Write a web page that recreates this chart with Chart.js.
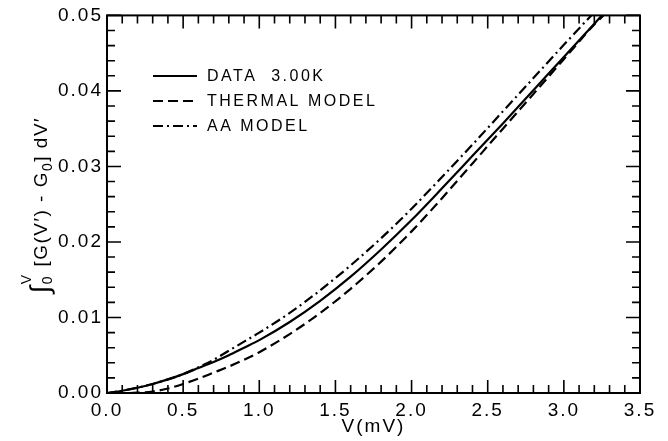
<!DOCTYPE html>
<html>
<head>
<meta charset="utf-8">
<script src="https://cdn.jsdelivr.net/npm/chart.js@4.4.1/dist/chart.umd.min.js"></script>
<style>
  html, body { margin: 0; padding: 0; background: #fff; }
  #wrap { width: 668px; height: 441px; }
</style>
</head>
<body>
<div id="wrap"><canvas id="myChart" width="668" height="441"></canvas></div>
<script>
// V (mV) and integral values
const dataVoltage = [0, 0.1, 0.2, 0.3, 0.4, 0.5, 0.6, 0.7, 0.8, 0.9, 1.0, 1.2, 1.4, 1.6, 1.8, 2.0, 2.2, 2.4, 2.6, 2.8, 3.0, 3.2, 3.25];
const dataIntegral = [0, 0.0003, 0.0007, 0.0012, 0.0018, 0.0025, 0.0033, 0.0041, 0.0050, 0.0060, 0.0070, 0.0094, 0.0122, 0.0154, 0.0190, 0.0229, 0.0271, 0.0314, 0.0357, 0.0401, 0.0445, 0.0489, 0.0500];

const thermalVoltage = [0.15, 0.3, 0.4, 0.5, 0.6, 0.7, 0.8, 0.9, 1.0, 1.2, 1.4, 1.6, 1.8, 2.0, 2.2, 2.4, 2.6, 2.8, 3.0, 3.2, 3.26];
const thermalIntegral = [0, 0.0002, 0.0006, 0.0012, 0.0019, 0.0027, 0.0035, 0.0044, 0.0054, 0.0078, 0.0106, 0.0138, 0.0174, 0.0214, 0.0258, 0.0304, 0.0350, 0.0396, 0.0442, 0.0488, 0.0500];

const aaVoltage = [0, 0.1, 0.2, 0.3, 0.4, 0.5, 0.6, 0.7, 0.8, 0.9, 1.0, 1.2, 1.4, 1.6, 1.8, 2.0, 2.2, 2.4, 2.6, 2.8, 3.0, 3.18];
const aaIntegral = [0, 0.0003, 0.0007, 0.0012, 0.0018, 0.0025, 0.0034, 0.0044, 0.0056, 0.0068, 0.0080, 0.0106, 0.0136, 0.0169, 0.0205, 0.0244, 0.0286, 0.0329, 0.0373, 0.0417, 0.0461, 0.0500];

const seriesLabels = ['DATA  3.00K', 'THERMAL MODEL', 'AA MODEL'];
const xTickLabels = ['0.0', '0.5', '1.0', '1.5', '2.0', '2.5', '3.0', '3.5'];
const yTickLabels = ['0.00', '0.01', '0.02', '0.03', '0.04', '0.05'];

const FONT = '"Liberation Sans", Arial, sans-serif';

const toPoints = (xs, ys) => xs.map((x, i) => ({ x, y: ys[i] }));

// inner ticks on all four sides + frame
const framePlugin = {
  id: 'frame',
  beforeDraw(chart) {
    chart.ctx.letterSpacing = '2px';
  },
  afterDraw(chart) {
    const { ctx, chartArea: a, scales } = chart;
    ctx.save();
    ctx.strokeStyle = '#000';
    ctx.lineWidth = 1.6;
    scales.x.ticks.forEach(t => {
      const px = scales.x.getPixelForValue(t.value);
      const major = Math.round(t.value * 10) % 5 === 0;
      const len = major ? 13 : 8;
      ctx.beginPath();
      ctx.moveTo(px, a.bottom); ctx.lineTo(px, a.bottom - len);
      ctx.moveTo(px, a.top); ctx.lineTo(px, a.top + len);
      ctx.stroke();
    });
    scales.y.ticks.forEach(t => {
      const py = scales.y.getPixelForValue(t.value);
      const major = Math.round(t.value * 1000) % 10 === 0;
      const len = major ? 14 : 8;
      ctx.beginPath();
      ctx.moveTo(a.left, py); ctx.lineTo(a.left + len, py);
      ctx.moveTo(a.right, py); ctx.lineTo(a.right - len, py);
      ctx.stroke();
    });
    ctx.lineWidth = 2;
    ctx.strokeRect(a.left, a.top, a.right - a.left, a.bottom - a.top);
    ctx.restore();
  }
};

// legend box in the upper left of the plot
const legendPlugin = {
  id: 'innerLegend',
  afterDraw(chart) {
    const ctx = chart.ctx;
    ctx.save();
    ctx.letterSpacing = '2.5px';
    ctx.font = '16px ' + FONT;
    ctx.fillStyle = '#000';
    ctx.textBaseline = 'middle';
    chart.data.datasets.forEach((ds, i) => {
      const y = 76 + i * 25;
      ctx.strokeStyle = '#000';
      ctx.lineWidth = 2;
      ctx.setLineDash(ds.borderDash || []);
      ctx.beginPath();
      ctx.moveTo(153, y); ctx.lineTo(197, y);
      ctx.stroke();
      ctx.setLineDash([]);
      ctx.fillText(ds.label, 207, y + 1);
    });
    ctx.restore();
  }
};

// rotated y axis title with sub/superscripts
const yTitlePlugin = {
  id: 'yTitle',
  afterDraw(chart) {
    const ctx = chart.ctx;
    const parts = [
      { t: '\u222B', f: 27, dy: 2 },
      { t: '0', f: 14, dy: 5, w: 0 },
      { t: 'V', f: 14, dy: -16 },
      { t: ' [G(V\u2032) - G', f: 19, dy: 0 },
      { t: '0', f: 14, dy: 5 },
      { t: '] dV\u2032', f: 19, dy: 0 }
    ];
    ctx.save();
    ctx.letterSpacing = '1.5px';
    ctx.fillStyle = '#000';
    ctx.textBaseline = 'alphabetic';
    let total = 0;
    parts.forEach(p => {
      ctx.font = p.f + 'px ' + FONT;
      p.width = ctx.measureText(p.t).width;
      if (p.w !== 0) total += p.width;
    });
    ctx.translate(47, 205);
    ctx.rotate(-Math.PI / 2);
    let u = -total / 2;
    parts.forEach(p => {
      ctx.font = p.f + 'px ' + FONT;
      ctx.fillText(p.t, u, p.dy);
      if (p.w !== 0) u += p.width;
    });
    ctx.restore();
  }
};

const ctx = document.getElementById('myChart').getContext('2d');
new Chart(ctx, {
  type: 'line',
  data: {
    datasets: [
      {
        label: seriesLabels[0],
        data: toPoints(dataVoltage, dataIntegral),
        borderColor: '#000',
        borderWidth: 2.2,
        borderDash: [],
        pointRadius: 0,
        cubicInterpolationMode: 'monotone',
        fill: false,
      },
      {
        label: seriesLabels[1],
        data: toPoints(thermalVoltage, thermalIntegral),
        borderColor: '#000',
        borderWidth: 2.2,
        borderDash: [10, 5],
        pointRadius: 0,
        cubicInterpolationMode: 'monotone',
        fill: false,
      },
      {
        label: seriesLabels[2],
        data: toPoints(aaVoltage, aaIntegral),
        borderColor: '#000',
        borderWidth: 2.2,
        borderDash: [10, 4, 2, 4],
        pointRadius: 0,
        cubicInterpolationMode: 'monotone',
        fill: false,
      },
    ],
  },
  options: {
    responsive: false,
    animation: false,
    layout: { padding: { left: 0, right: 28, top: 15, bottom: 0 } },
    plugins: {
      legend: { display: false },
      tooltip: { enabled: false },
    },
    scales: {
      x: {
        type: 'linear',
        min: 0,
        max: 3.5,
        grid: { display: false, drawTicks: false },
        border: { display: false },
        ticks: {
          stepSize: 0.1,
          autoSkip: false,
          maxRotation: 0,
          padding: 6,
          color: '#000',
          font: { family: FONT, size: 19 },
          callback: (v) => {
            const k = Math.round(v * 10);
            return k % 5 === 0 ? xTickLabels[k / 5] : '';
          },
        },
        title: {
          display: true,
          text: 'V(mV)',
          color: '#000',
          font: { family: FONT, size: 19 },
          padding: { top: 0, bottom: 3 },
        },
        afterFit: (s) => { s.height = 48; },
      },
      y: {
        type: 'linear',
        min: 0,
        max: 0.05,
        grid: { display: false, drawTicks: false },
        border: { display: false },
        ticks: {
          stepSize: 0.002,
          autoSkip: false,
          padding: 4,
          color: '#000',
          font: { family: FONT, size: 19 },
          callback: (v) => {
            const k = Math.round(v * 1000);
            return k % 10 === 0 ? yTickLabels[k / 10] : '';
          },
        },
        afterFit: (s) => { s.width = 107; },
      },
    },
  },
  plugins: [framePlugin, legendPlugin, yTitlePlugin],
});
</script>
</body>
</html>
